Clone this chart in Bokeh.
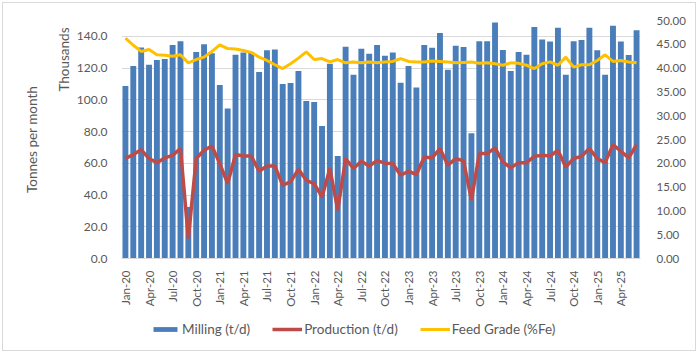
import pandas as pd
from math import pi
from bokeh.plotting import figure
from bokeh.layouts import column
from bokeh.models import (Range1d, LinearAxis, FixedTicker, Legend, LegendItem, Title,
                          ColumnDataSource, NumeralTickFormatter)
from bokeh.embed import file_html
from bokeh.resources import INLINE

months = [d.strftime("%b-%y") for d in pd.date_range("2020-01-01", periods=66, freq="MS")]

# Milling (thousand tonnes per month)
milling = [108.7, 121.3, 133.0, 122.1, 125.1, 125.7, 134.5, 137.0, 32.5, 130.1, 135.0, 129.3,
           109.3, 94.6, 128.4, 129.9, 130.0, 117.5, 131.2, 131.8, 110.0, 110.6, 118.2, 99.3,
           98.6, 83.5, 122.8, 64.6, 133.5, 115.8, 132.2, 129.0, 134.5, 127.8, 129.9, 110.8,
           121.3, 107.7, 134.5, 132.8, 142.1, 119.0, 134.1, 133.3, 78.9, 137.0, 137.0, 148.8,
           131.4, 118.2, 130.1, 128.4, 145.9, 138.1, 136.8, 145.4, 115.8, 137.0, 137.7, 145.4,
           131.2, 115.8, 146.7, 136.8, 128.2, 143.8]

# Production (thousand tonnes per month)
production = [63.0, 65.5, 68.6, 63.0, 60.4, 63.4, 65.0, 69.3, 12.6, 63.0, 68.2, 70.9,
              59.8, 47.2, 65.5, 64.6, 64.6, 55.0, 58.3, 58.3, 46.2, 48.3, 56.2, 49.3,
              47.2, 38.8, 56.7, 30.4, 63.0, 56.7, 61.3, 58.3, 61.7, 60.1, 59.8, 52.5,
              55.0, 52.9, 64.0, 63.4, 69.3, 58.8, 63.0, 61.5, 36.7, 66.1, 66.1, 69.7,
              60.9, 57.1, 60.4, 60.4, 64.4, 65.0, 64.6, 68.2, 57.7, 63.0, 64.4, 69.3,
              63.0, 60.4, 71.8, 67.6, 63.4, 71.8]

# Feed grade (%Fe)
feed_grade = [46.3, 44.8, 43.5, 43.9, 42.8, 42.7, 42.5, 42.8, 41.1, 41.8, 42.3, 43.5,
              44.9, 44.1, 44.0, 43.7, 43.3, 42.3, 41.6, 40.7, 39.9, 40.9, 42.1, 43.4,
              41.8, 42.0, 41.3, 41.8, 41.1, 41.3, 41.1, 41.3, 41.1, 41.3, 41.4, 42.0,
              41.4, 41.3, 41.3, 41.5, 41.4, 41.3, 41.1, 41.2, 41.3, 41.0, 41.1, 40.9,
              40.6, 41.1, 41.0, 40.6, 39.9, 40.9, 41.3, 40.6, 42.3, 40.2, 40.7, 40.7,
              41.6, 42.8, 41.4, 41.6, 41.3, 41.1]

left_ticks = [0, 20, 40, 60, 80, 100, 120, 140]
right_ticks = [0, 5, 10, 15, 20, 25, 30, 35, 40, 45, 50]

FONT = "Lato"
TXT = "#595959"
BLUE, RED, GOLD = "#4A7EBB", "#BE4B48", "#FFC000"

x = list(range(len(months)))
src = ColumnDataSource(dict(x=x, milling=milling, production=production, feed=feed_grade))

p = figure(width=698, height=309, output_backend="svg", toolbar_location=None,
           x_range=Range1d(-0.5, len(months) - 0.5), y_range=Range1d(0, 150),
           min_border_left=121, min_border_right=58, min_border_top=20, min_border_bottom=50)
p.extra_y_ranges = {"grade": Range1d(0, 50)}
p.outline_line_color = None
p.border_fill_color = None
p.background_fill_color = "white"

bars = p.vbar(x="x", top="milling", width=0.75, source=src, fill_color=BLUE, line_color=None)
p.line(x="x", y="production", source=src, line_color=RED, line_width=3.5)
p.line(x="x", y="feed", source=src, line_color=GOLD, line_width=3, y_range_name="grade")

p.xgrid.visible = False
p.ygrid.ticker = FixedTicker(ticks=left_ticks)
p.ygrid.grid_line_color = "#D9D9D9"

xa = p.xaxis[0]
xa.ticker = FixedTicker(ticks=list(range(0, len(months), 3)))
xa.major_label_overrides = {i: months[i] for i in range(0, len(months), 3)}
xa.major_label_orientation = pi / 2
xa.axis_line_color = "#D9D9D9"
xa.major_tick_line_color = None
xa.minor_tick_line_color = None
xa.major_label_text_font = FONT
xa.major_label_text_font_size = "11.5px"
xa.major_label_text_color = TXT
xa.major_label_standoff = 6

ya = p.yaxis[0]
ya.ticker = FixedTicker(ticks=left_ticks)
ya.formatter = NumeralTickFormatter(format="0.0")
ya.axis_line_color = None
ya.major_tick_line_color = None
ya.minor_tick_line_color = None
ya.major_label_text_font = FONT
ya.major_label_text_font_size = "12px"
ya.major_label_text_color = TXT
ya.major_label_standoff = 8

p.add_layout(Title(text="Thousands", align="right", offset=7, standoff=4,
                   text_font=FONT, text_font_size="13.5px", text_font_style="normal",
                   text_color=TXT), "left")
p.add_layout(Title(text="Tonnes per month", align="center", standoff=24,
                   text_font=FONT, text_font_size="13.5px", text_font_style="normal",
                   text_color=TXT), "left")

yr = LinearAxis(y_range_name="grade", ticker=FixedTicker(ticks=right_ticks),
                formatter=NumeralTickFormatter(format="0.00"),
                axis_line_color=None, major_tick_line_color=None, minor_tick_line_color=None,
                major_label_text_font=FONT, major_label_text_font_size="11.5px",
                major_label_text_color=TXT, major_label_standoff=10)
p.add_layout(yr, "right")

# legend strip below the chart (its frame is aligned with the chart's frame)
lg = figure(width=698, height=44, output_backend="svg", toolbar_location=None,
            x_range=Range1d(0, 1), y_range=Range1d(0, 1),
            min_border_left=0, min_border_right=0, min_border_top=0, min_border_bottom=0)
lg.axis.visible = False
lg.grid.visible = False
lg.outline_line_color = None
lg.border_fill_color = None
lg.background_fill_color = None
r1 = lg.vbar(x=[-10], top=[-10], width=0.5, fill_color=BLUE, line_color=None)
r2 = lg.line(x=[-10, -9], y=[-10, -10], line_color=RED, line_width=3.5)
r3 = lg.line(x=[-10, -9], y=[-10, -10], line_color=GOLD, line_width=3)
legend = Legend(items=[LegendItem(label="Milling (t/d)", renderers=[r1]),
                       LegendItem(label="Production (t/d)", renderers=[r2]),
                       LegendItem(label="Feed Grade (%Fe)", renderers=[r3])],
                orientation="horizontal", location=(29, 16),
                border_line_color=None, background_fill_alpha=0,
                label_text_font=FONT, label_text_font_size="13.5px", label_text_color=TXT,
                glyph_width=30, glyph_height=6, label_standoff=2, spacing=22,
                padding=2, margin=0)
lg.add_layout(legend, "center")

layout = column(p, lg, spacing=0)
layout.styles = {"outline": "1px solid #D9D9D9", "outline-offset": "-3px",
                 "background-color": "white"}
open("out.html", "w").write(file_html(layout, INLINE))
